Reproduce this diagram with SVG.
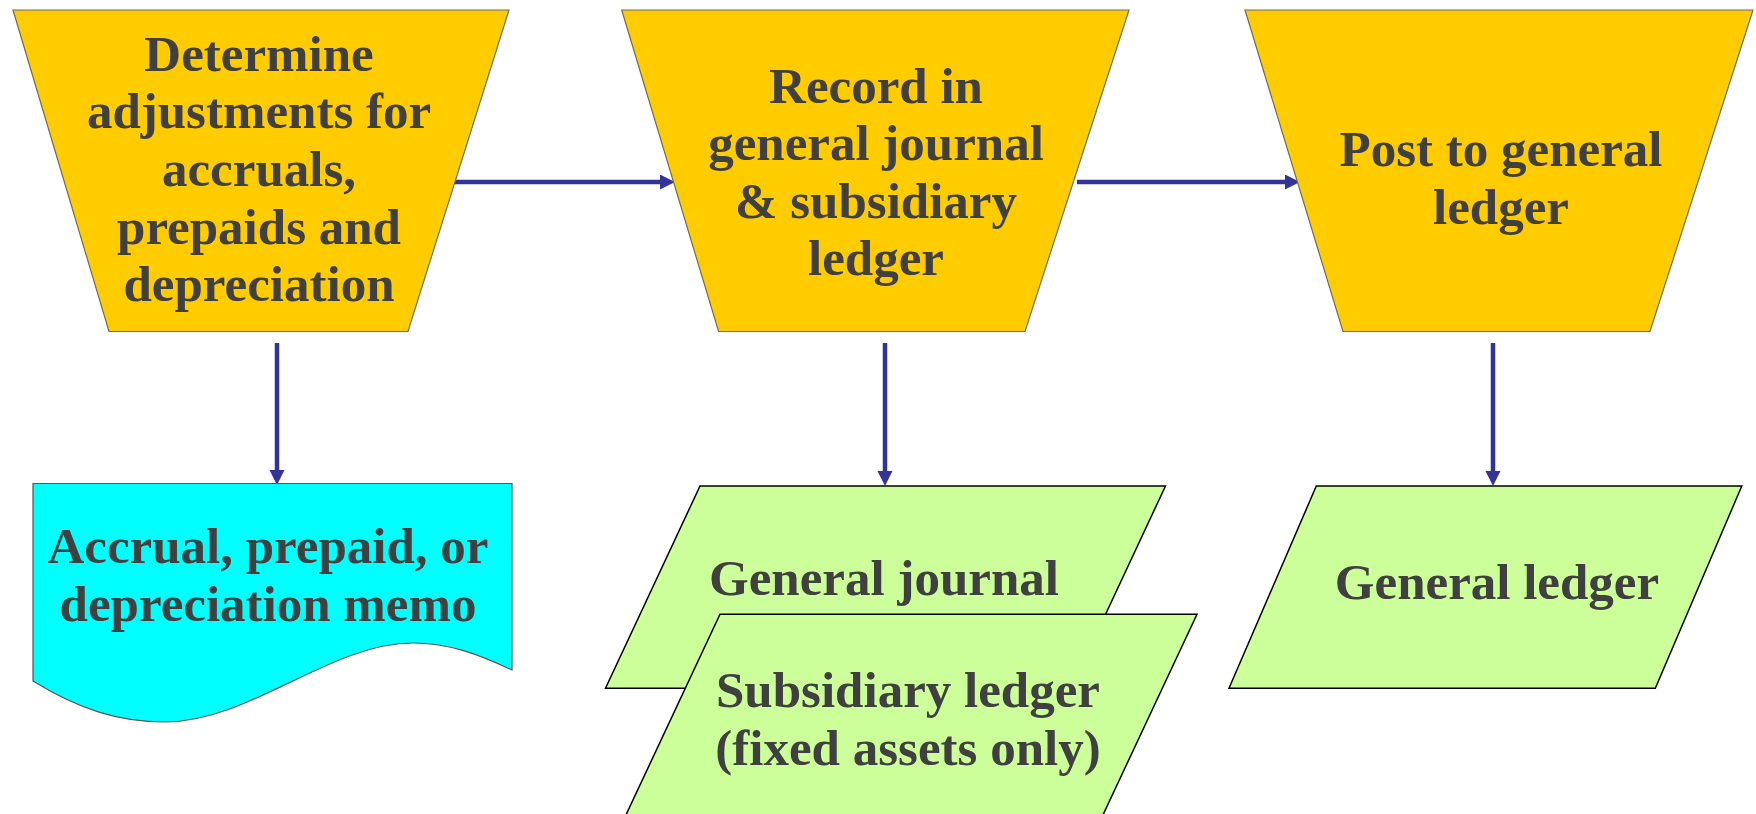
<svg xmlns="http://www.w3.org/2000/svg" width="1756" height="814" viewBox="0 0 1756 814">
<style>
.proc{fill:#FFCC00;stroke:#6b6b6b;stroke-width:1.2}
.doc{fill:#00FFFF;stroke:#555555;stroke-width:1.2}
.data{fill:#CCFF99;stroke:#000000;stroke-width:1.5}
.lbl{font-family:"Liberation Serif","Times New Roman",serif;font-weight:bold;font-size:51px;fill:#404040;text-anchor:middle}
.conn{stroke:#333399;stroke-width:4.5;fill:none;marker-end:url(#ah)}
</style>
<defs>
<marker id="ah" markerUnits="userSpaceOnUse" markerWidth="16" markerHeight="16" refX="5" refY="7.5" orient="auto">
<path d="M0,0 L15,7.5 L0,15 z" fill="#333399"/>
</marker>
</defs>
<rect width="1756" height="814" fill="#ffffff"/>
<g id="connectors">
<line class="conn" x1="454" y1="182" x2="665" y2="182"/>
<line class="conn" x1="1077" y1="182" x2="1290" y2="182"/>
<line class="conn" x1="277" y1="343" x2="277" y2="475"/>
<line class="conn" x1="885" y1="343" x2="885" y2="476"/>
<line class="conn" x1="1493" y1="343" x2="1493" y2="476"/>
</g>
<g id="node-determine">
<polygon class="proc" points="13,10 509,10 408,331.5 109,331.5"/>
<text class="lbl"><tspan x="259" y="70.7">Determine</tspan><tspan x="259" y="128.3">adjustments for</tspan><tspan x="259" y="186">accruals,</tspan><tspan x="259" y="243.6">prepaids and</tspan><tspan x="259" y="301.2">depreciation</tspan></text>
</g>
<g id="node-record">
<polygon class="proc" points="621.7,10 1129,10 1025,331.5 718.6,331.5"/>
<text class="lbl"><tspan x="876" y="102.5">Record in</tspan><tspan x="876" y="160.1">general journal</tspan><tspan x="876" y="217.7">&amp; subsidiary</tspan><tspan x="876" y="275.3">ledger</tspan></text>
</g>
<g id="node-post">
<polygon class="proc" points="1245,10 1753,10 1650,331.5 1343,331.5"/>
<text class="lbl"><tspan x="1501" y="166">Post to general</tspan><tspan x="1501" y="223.6">ledger</tspan></text>
</g>
<g id="node-memo">
<path class="doc" d="M33,483.5 H512 V670 C480,655 450,643 413,643 C330,643 250,722 165,722 C120,722 80,710 33,681 Z"/>
<text class="lbl"><tspan x="268" y="563">Accrual, prepaid, or</tspan><tspan x="268" y="620.7">depreciation memo</tspan></text>
</g>
<g id="node-general-journal">
<polygon class="data" points="700,486 1165.5,486 1071,688.3 605.5,688.3"/>
<text class="lbl" x="884" y="595">General journal</text>
</g>
<g id="node-subsidiary-ledger">
<polygon class="data" points="720,614.3 1197,614.3 1102,817 625,817"/>
<text class="lbl"><tspan x="908" y="706.7">Subsidiary ledger</tspan><tspan x="908" y="765">(fixed assets only)</tspan></text>
</g>
<g id="node-general-ledger">
<polygon class="data" points="1316.3,486 1741.8,486 1655.3,688.3 1229,688.3"/>
<text class="lbl" x="1497" y="599">General ledger</text>
</g>
</svg>
